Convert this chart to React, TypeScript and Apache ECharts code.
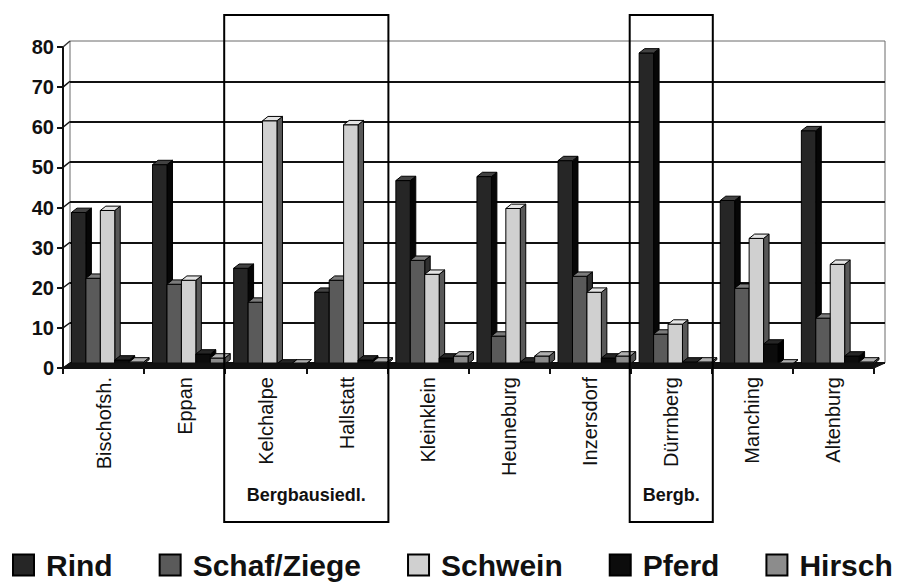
import { useEffect, useRef } from "react";
import * as echarts from "echarts";

// Fundorte
const categories = [
  "Bischofsh.",
  "Eppan",
  "Kelchalpe",
  "Hallstatt",
  "Kleinklein",
  "Heuneburg",
  "Inzersdorf",
  "Dürrnberg",
  "Manching",
  "Altenburg",
];

// Tierarten (Anteile in %)
const seriesNames = ["Rind", "Schaf/Ziege", "Schwein", "Pferd", "Hirsch"];
const rind = [38, 50, 24, 18, 46, 47, 51, 78, 41, 58.5];
const schafZiege = [21.5, 20, 15.5, 21, 26, 7, 22, 7.5, 19, 11.5];
const schwein = [38.5, 21, 61, 60, 22.5, 39, 18, 10, 31.5, 25];
const pferd = [1, 2.5, 0, 1, 1.5, 0.5, 1.5, 0.5, 5, 2];
const hirsch = [0.5, 1.5, 0, 0.5, 2, 2, 2, 0.5, 0, 0.5];

const yMin = 0;
const yMax = 80;
const yStep = 10;

// Gruppen von Fundorten, die gerahmt werden: [erster Index, letzter Index, Beschriftung]
const groups: [number, number, string][] = [
  [2, 3, "Bergbausiedl."],
  [7, 7, "Bergb."],
];

const FONT = '"Liberation Sans", Arial, Helvetica, sans-serif';

// front / side / top shades of the 3D columns
const shades = [
  { front: "#262626", side: "#060606", top: "#424242" },
  { front: "#5a5a5a", side: "#303030", top: "#7c7c7c" },
  { front: "#d0d0d0", side: "#585858", top: "#e4e4e4" },
  { front: "#0c0c0c", side: "#000000", top: "#262626" },
  { front: "#8c8c8c", side: "#505050", top: "#b0b0b0" },
];

// layout of the three coordinate systems: front axes, back wall, columns
const frontGrid = { left: 63, right: 31, top: 47, bottom: 215 };
const wallGrid = { left: 70, right: 20, top: 41, bottom: 220 };
const barGrid = { left: 67, right: 27, top: 45, bottom: 219 };

function columnRenderer(slot: number, shade: { front: string; side: string; top: string }) {
  return (_params: any, api: any) => {
    const ci = api.value(0);
    const v = api.value(1);
    const base = api.coord([ci, 0]);
    const head = api.coord([ci, v]);
    const band = api.size([1, 0])[0];
    const w = band * 0.178;
    const dx = w * 0.38;
    const dy = w * 0.3;
    const x0 = base[0] - 2.5 * w + slot * w;
    const x1 = x0 + w;
    const y0 = base[1];
    const y1 = head[1];
    const stroke = { stroke: "#000", lineWidth: 1 };
    return {
      type: "group",
      children: [
        {
          type: "polygon",
          shape: { points: [[x1, y1], [x1 + dx, y1 - dy], [x1 + dx, y0 - dy], [x1, y0]] },
          style: { fill: shade.side, ...stroke },
        },
        {
          type: "rect",
          shape: { x: x0, y: y1, width: w, height: y0 - y1 },
          style: { fill: shade.front, ...stroke },
        },
        {
          type: "polygon",
          shape: { points: [[x0, y1], [x0 + dx, y1 - dy], [x1 + dx, y1 - dy], [x1, y1]] },
          style: { fill: shade.top, ...stroke },
        },
      ],
    };
  };
}

export default function App() {
  const ref = useRef<HTMLDivElement>(null);

  useEffect(() => {
    if (!ref.current) return;
    const chart = echarts.init(ref.current, null, { renderer: "svg" });
    const values = [rind, schafZiege, schwein, pferd, hirsch];

    const splitColors: string[] = [];
    for (let v = yMin; v <= yMax; v += yStep) splitColors.push(v === yMax ? "rgba(0,0,0,0)" : "#111");

    const hiddenCat = {
      type: "category" as const,
      data: categories,
      show: false,
      boundaryGap: true,
    };
    const hiddenVal = { type: "value" as const, min: yMin, max: yMax, interval: yStep, show: false };

    chart.setOption({
      animation: false,
      backgroundColor: "#fff",
      textStyle: { fontFamily: FONT },
      grid: [
        { ...frontGrid },
        { ...wallGrid, show: true, borderColor: "#6a6a6a", borderWidth: 1, backgroundColor: "transparent" },
        { ...barGrid },
      ],
      xAxis: [
        {
          type: "category",
          data: categories,
          gridIndex: 0,
          boundaryGap: true,
          axisLine: { lineStyle: { color: "#111", width: 2 } },
          axisTick: { show: true, interval: 0, length: 6, lineStyle: { color: "#111", width: 2 } },
          axisLabel: {
            interval: 0,
            rotate: 90,
            margin: 9,
            fontSize: 20,
            color: "#111",
            fontFamily: FONT,
            padding: [0, 0, 7, 0],
          },
          splitLine: { show: false },
        },
        { ...hiddenCat, gridIndex: 1 },
        { ...hiddenCat, gridIndex: 2 },
      ],
      yAxis: [
        {
          type: "value",
          gridIndex: 0,
          min: yMin,
          max: yMax,
          interval: yStep,
          axisLine: { show: true, lineStyle: { color: "#111", width: 2 } },
          axisTick: { show: true, length: 6, lineStyle: { color: "#111", width: 2 } },
          axisLabel: { fontSize: 20, fontWeight: "bold", color: "#111", margin: 9, fontFamily: FONT, padding: [5, 0, 0, 0] },
          splitLine: { show: false },
        },
        {
          type: "value",
          gridIndex: 1,
          min: yMin,
          max: yMax,
          interval: yStep,
          axisLine: { show: false },
          axisTick: { show: false },
          axisLabel: { show: false },
          splitLine: { show: true, lineStyle: { color: splitColors, width: 2 } },
        },
        { ...hiddenVal, gridIndex: 2 },
      ],
      legend: {
        left: 12,
        top: 550,
        width: 900,
        padding: 0,
        itemWidth: 21,
        itemHeight: 21,
        itemGap: 46,
        icon: "rect",
        selectedMode: false,
        data: seriesNames,
        textStyle: {
          fontSize: 30,
          lineHeight: 30,
          fontWeight: "bold",
          color: "#111",
          fontFamily: FONT,
          padding: [0, 0, 0, 7],
        },
      },
      series: values.map((vals, si) => ({
        type: "custom",
        name: seriesNames[si],
        xAxisIndex: 2,
        yAxisIndex: 2,
        clip: false,
        itemStyle: { color: shades[si].front, borderColor: "#000", borderWidth: 1 },
        renderItem: columnRenderer(si, shades[si]),
        encode: { x: 0, y: 1 },
        data: vals.map((v, i) => [i, v]),
      })),
    });

    // floor slab, wall edges and group frames, placed through the axes
    const xc = (i: number) => chart.convertToPixel({ xAxisIndex: 0 }, i) as number;
    const band = xc(1) - xc(0);
    const fy = (v: number) => chart.convertToPixel({ yAxisIndex: 0 }, v) as number;
    const wy = (v: number) => chart.convertToPixel({ yAxisIndex: 1 }, v) as number;
    const W = chart.getWidth();
    const fl = frontGrid.left;
    const fr = W - frontGrid.right;
    const wl = wallGrid.left;
    const wr = W - wallGrid.right;

    const graphic: any[] = [];
    graphic.push({
      type: "polygon",
      z: 50,
      shape: { points: [[fl, fy(0)], [fr, fy(0)], [wr, wy(0)], [wl, wy(0)]] },
      style: { fill: "#111", stroke: "#111", lineWidth: 1 },
    });
    for (let v = yMin; v <= yMax; v += yStep) {
      graphic.push({
        type: "line",
        z: 50,
        shape: { x1: fl, y1: fy(v), x2: wl, y2: wy(v) },
        style: { stroke: v === yMax ? "#333" : "#111", lineWidth: 1.5 },
      });
    }
    groups.forEach(([a, b, label]) => {
      const left = xc(a) - band / 2 - 1;
      const right = xc(b) + band / 2 + 1;
      graphic.push({
        type: "rect",
        z: 60,
        shape: { x: left, y: 15, width: right - left, height: 507 },
        style: { fill: "none", stroke: "#000", lineWidth: 2 },
      });
      graphic.push({
        type: "text",
        z: 60,
        x: (left + right) / 2,
        y: 495,
        style: {
          text: label,
          fontSize: 18,
          fontWeight: "bold",
          fontFamily: FONT,
          fill: "#111",
          align: "center",
          verticalAlign: "middle",
        },
      });
    });
    chart.setOption({ graphic });

    return () => chart.dispose();
  }, []);

  return (
    <div
      ref={ref}
      style={{ position: "fixed", left: 0, top: 0, width: 905, height: 583, background: "#fff" }}
    />
  );
}
